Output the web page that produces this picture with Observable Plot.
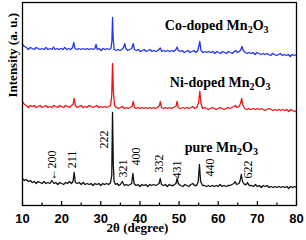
<!DOCTYPE html>
<html><head><meta charset="utf-8">
<script src="https://cdn.jsdelivr.net/npm/d3@7"></script>
<script src="https://cdn.jsdelivr.net/npm/@observablehq/plot@0.6"></script>
<style>body{margin:0;background:#fff}</style>
</head><body><div id="chart"></div>
<script>
const pure = [[10,27],[10.5,25],[11,26],[11.5,24],[12,25],[12.5,23],[13,24],[13.5,22],[14,24],[14.5,23],[15,22],[15.5,24],[16,22],[16.5,23],[17,22],[17.5,25],[18,22],[18.5,23],[19,21],[19.5,23],[20,22],[20.5,21],[21,23],[21.5,22],[22,24],[22.5,22],[22.9,24],[23.2,33],[23.5,23],[24,22],[24.5,23],[25,21],[25.5,23],[26,21],[26.5,22],[27,21],[27.5,22],[28,20],[28.5,22],[29,21],[29.5,22],[30,20],[30.5,22],[31,21],[31.5,22],[32,21],[32.5,23],[32.8,30],[33.0,93],[33.2,40],[33.4,24],[33.8,21],[34.2,22],[34.6,20],[35,21],[35.5,24],[36,20],[36.5,21],[37,20],[37.5,21],[37.9,22],[38.2,32],[38.5,22],[39,20],[39.5,21],[40,19],[40.5,21],[41,20],[41.5,21],[42,19],[42.5,21],[43,20],[43.5,21],[44,20],[44.5,21],[44.9,22],[45.2,27],[45.5,21],[46,20],[46.5,21],[47,19],[47.5,21],[48,20],[48.5,20],[49.2,22],[49.5,27],[49.8,22],[50.3,20],[51,19],[51.5,21],[52,20],[52.5,19],[53,21],[53.5,22],[54,20],[54.5,20],[54.9,24],[55.2,41],[55.5,24],[56,20],[56.5,20],[57,19],[57.5,20],[58,19],[58.5,20],[59,19],[59.5,20],[60,19],[60.5,21],[61,19],[61.5,20],[62,19],[62.5,20],[63,20],[63.5,21],[64,22],[64.3,24],[64.7,21],[65.3,22],[65.6,25],[65.9,31],[66.2,24],[66.7,21],[67.2,21],[67.5,23],[67.9,20],[68.5,20],[69,19],[69.5,21],[70,19],[70.5,20],[71,18],[71.5,20],[72,19],[72.5,20],[73,18],[73.5,19],[74,18],[74.5,19],[75,18],[75.5,19],[76,18],[76.5,19],[77,18],[77.5,19],[78,17],[78.5,19],[79,18],[79.5,19],[80,18]];
const niDoped = [[10,104],[10.5,101],[11,100],[11.5,98],[12,100],[12.5,99],[13,100],[13.5,98],[14,99],[14.5,100],[15,98],[15.5,99],[16,100],[16.5,98],[17,99],[17.5,98],[18,100],[18.5,99],[19,98],[19.5,100],[20,99],[20.5,98],[21,100],[21.5,99],[22,98],[22.5,100],[22.9,101],[23.2,107],[23.5,100],[24,98],[24.5,99],[25,100],[25.5,98],[26,99],[26.5,98],[27,100],[27.5,99],[28,98],[28.5,99],[29,100],[29.5,98],[30,99],[30.5,98],[31,99],[31.5,98],[32,99],[32.5,100],[32.8,110],[33.0,142],[33.2,115],[33.5,100],[34,98],[34.5,97],[35,98],[35.5,99],[36,97],[36.5,98],[37,97],[37.5,98],[38,99],[38.3,104],[38.6,98],[39,97],[39.5,98],[40,97],[40.5,98],[41,97],[41.5,98],[42,97],[42.5,98],[43,97],[43.5,98],[44,97],[44.5,98],[45,100],[45.2,104],[45.5,98],[46,97],[46.5,98],[47,97],[47.5,98],[48,97],[48.5,98],[49.2,99],[49.5,104],[49.8,98],[50.3,97],[51,98],[51.5,97],[52,98],[52.5,97],[53,98],[53.5,99],[54,97],[54.5,98],[55,103],[55.3,114],[55.6,102],[56,97],[56.5,98],[57,97],[57.5,96],[58,97],[58.5,98],[59,97],[59.5,96],[60,97],[60.5,98],[61,97],[61.5,96],[62,97],[62.5,98],[63,97],[63.5,98],[64,99],[64.4,100],[64.8,98],[65.3,99],[65.7,102],[66.0,107],[66.3,100],[66.8,97],[67.3,96],[67.8,97],[68.3,96],[69,97],[69.5,96],[70,97],[70.5,96],[71,97],[71.5,96],[72,95],[72.5,96],[73,97],[73.5,96],[74,95],[74.5,96],[75,95],[75.5,96],[76,95],[76.5,96],[77,95],[77.5,96],[78,94],[78.5,96],[79,95],[79.5,94],[80,95]];
const coDoped = [[10,161],[10.5,159],[11,158],[11.5,156],[12,158],[12.5,157],[13,156],[13.5,158],[14,157],[14.5,156],[15,157],[15.5,156],[16,158],[16.5,156],[17,157],[17.5,156],[17.9,158.5],[18.3,156],[18.8,157],[19.3,156],[19.8,157],[20.3,156],[20.8,158],[21.3,156],[21.8,157],[22.3,156],[22.8,158],[23.1,163],[23.4,157],[23.9,156],[24.4,157],[25,156],[25.5,157],[26,156],[26.5,157],[27,156],[27.5,157],[28,156],[28.5,157],[28.8,161],[29.1,156],[29.6,157],[30.1,155],[30.6,157],[31.1,156],[31.6,157],[32.1,156],[32.6,157],[32.85,165],[33.0,188],[33.15,168],[33.4,156],[33.9,155],[34.4,156],[34.9,155],[35.4,156],[35.8,158],[36.1,162],[36.4,157],[36.9,155],[37.4,156],[37.9,157],[38.3,162],[38.6,156],[39.1,155],[39.6,156],[40.1,154],[40.6,155],[41.1,156],[41.6,154],[42.1,155],[42.6,156],[43.1,154],[43.6,155],[44.1,154],[44.6,155],[45.2,157.5],[45.6,154],[46.1,155],[46.6,154],[47.1,155],[47.6,154],[48.1,155],[48.6,154],[49.2,156],[49.5,158.5],[49.8,155],[50.3,154],[50.8,155],[51.3,153],[51.8,154],[52.3,155],[52.8,153],[53.3,154],[53.8,155],[54.3,153],[54.8,155],[55.3,164],[55.6,155],[56.1,153],[56.6,154],[57.1,153],[57.6,154],[58.1,153],[58.6,154],[59.1,152],[59.6,154],[60.1,153],[60.6,152],[61.1,154],[61.6,153],[62.1,152],[62.6,154],[63.1,153],[63.6,152],[64.1,154],[64.5,155],[64.9,153],[65.4,154],[65.8,156],[66.1,159],[66.4,155],[66.9,153],[67.4,152],[67.9,153],[68.4,152],[68.9,153],[69.4,151],[69.9,153],[70.4,152],[70.9,151],[71.4,152],[71.9,151],[72.4,152],[72.9,151],[73.4,150],[73.9,152],[74.4,151],[74.9,150],[75.4,151],[75.9,152],[76.4,150],[76.9,151],[77.4,150],[77.9,151],[78.4,149],[78.9,151],[79.4,150],[80,151]];

const peakLabels = ["\u2190200","211","222","321","400","332","431","440","622"];
const peakLabelX = [17.6,22.7,30.8,35.6,39.0,45.0,49.5,57.9,67.6];
const peakLabelY = [40,46,66,37,49,42,36,38,36];

const seriesNames = ["Co-doped Mn2O3","Ni-doped Mn2O3","pure Mn2O3"];
const seriesLabelX = [59.6,60.5,60.8];
const seriesLabelY = [180,123,58];

const majorTicks = [10,20,30,40,50,60,70,80];
const minorTicks = [15,25,35,45,55,65,75];

const serif = "'Liberation Serif','Times New Roman',serif";
const sans = "'Liberation Sans',Arial,sans-serif";

const peakTable = peakLabels.map((t,i)=>({t, x:peakLabelX[i], y:peakLabelY[i]}));
const seriesTable = seriesNames.map((t,i)=>({t, x:seriesLabelX[i], y:seriesLabelY[i]}));

const chart = Plot.plot({
  width: 306, height: 240,
  marginLeft: 22, marginRight: 10, marginTop: 2, marginBottom: 35,
  x: {domain: [10, 80]},
  y: {domain: [0, 203], axis: null},
  style: {background: "white", color: "black"},
  marks: [
    Plot.line(pure, {x: d=>d[0], y: d=>d[1], stroke: "#111", strokeWidth: 1.3}),
    Plot.line(niDoped, {x: d=>d[0], y: d=>d[1], stroke: "#f01010", strokeWidth: 1.3}),
    Plot.line(coDoped, {x: d=>d[0], y: d=>d[1], stroke: "#2233ee", strokeWidth: 1.3}),
    Plot.ruleX(majorTicks, {x: d=>d, y1: 0, y2: 4, stroke: "black", strokeWidth: 1.2}),
    Plot.ruleX(minorTicks, {x: d=>d, y1: 0, y2: 2.5, stroke: "black", strokeWidth: 1.2}),
    Plot.frame({stroke: "black", strokeWidth: 1.3}),
    Plot.axisX({ticks: majorTicks, tickSize: 0, tickPadding: 8, label: null,
      fontSize: 13, fontWeight: "bold", fontFamily: sans}),
    Plot.text(peakTable, {x: "x", y: "y", text: "t", rotate: -90, fontSize: 12,
      fontFamily: serif, fill: "black", textAnchor: "middle"}),
    Plot.text(seriesTable, {x: "x", y: "y", text: "t", fontSize: 14, fontWeight: "bold",
      fontFamily: serif, fill: "black", className: "series-label"}),
    Plot.text(["2\u03b8 (degree)"], {text: d=>d, frameAnchor: "bottom", dx: -22, dy: 22,
      lineAnchor: "middle", fontSize: 13, fontWeight: "bold", fontFamily: serif, fill: "black"}),
    Plot.text(["Intensity (a. u.)"], {text: d=>d, frameAnchor: "left", dx: -10, dy: -6.5,
      rotate: -90, lineAnchor: "middle", fontSize: 13, fontWeight: "bold", fontFamily: serif, fill: "black"})
  ]
});

d3.select(chart).selectAll(".series-label text").each(function(){
  const el = d3.select(this);
  const parts = el.text().split(/(\d)/).filter(s=>s.length);
  el.text(null);
  let shifted = false;
  parts.forEach(p=>{
    const isSub = /^\d$/.test(p);
    const ts = el.append("tspan").text(p);
    if (isSub) { ts.attr("font-size", 10).attr("dy", shifted ? 0 : 3); shifted = true; }
    else if (shifted) { ts.attr("dy", -3); shifted = false; }
  });
});

document.getElementById("chart").append(chart);
</script>
</body></html>
